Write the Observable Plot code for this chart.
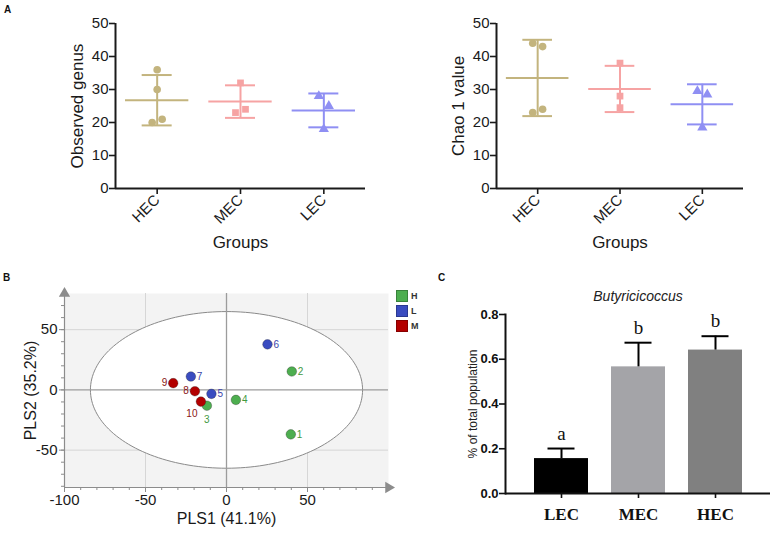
<!DOCTYPE html>
<html><head><meta charset="utf-8">
<script src="https://cdn.jsdelivr.net/npm/d3@7"></script>
<script src="https://cdn.jsdelivr.net/npm/@observablehq/plot@0.6"></script>
<style>
body{margin:0;background:#fff;}
#root{position:relative;width:777px;height:545px;overflow:hidden;font-family:"Liberation Sans",Arial,sans-serif;background:#fff;}
.panel{position:absolute;}
.plabel{position:absolute;font-weight:bold;font-size:10px;color:#111;line-height:1;}
.leg{position:absolute;font-size:9px;font-weight:bold;color:#333;}
.leg .row{display:flex;align-items:center;height:15px;}
.leg .sw{width:12px;height:12px;margin-right:3px;box-sizing:border-box;border:1px solid rgba(0,0,0,0.25);}
</style></head><body><div id="root"></div>
<script>
// ---------- Panel A data ----------
const groupsA = ["HEC", "MEC", "LEC"];
const colorsA = ["#c3b47e", "#f6a3a3", "#8f8ff3"];
const symbolsA = ["circle", "square", "triangle"];
const observedHEC = [36, 30, 20, 21];
const observedMEC = [32, 23, 24];
const observedLEC = [28, 25, 18];
const chaoHEC = [44, 43, 23, 24];
const chaoMEC = [38, 28, 24.5];
const chaoLEC = [29.5, 28.5, 18.5];
const yTicksA = [0, 10, 20, 30, 40, 50];

// ---------- Panel B data ----------
const samplesB = [1, 2, 3, 4, 5, 6, 7, 8, 9, 10];
const sampleGroupB = ["H", "H", "H", "H", "L", "L", "L", "M", "M", "M"];
const pls1 = [39.7, 40.3, -12.1, 5.8, -9.3, 25.3, -22.0, -19.5, -32.9, -15.8];
const pls2 = [-36.9, 15.3, -13.1, -8.3, -3.3, 37.8, 11.1, -1.1, 5.6, -9.7];
const groupsB = ["H", "L", "M"];
const colorsB = ["#4dae4f", "#3a4cc0", "#b30000"];
const labelColorsB = ["#3f9a3f", "#3a45a8", "#8a1515"];
const xTicksB = [-100, -50, 0, 50];
const yTicksB = [-50, 0, 50];
const ellipseRadiusB = [84, 65];

// ---------- Panel C data ----------
const groupsC = ["LEC", "MEC", "HEC"];
const meanC = [0.156, 0.566, 0.641];
const errC = [0.045, 0.108, 0.062];
const lettersC = ["a", "b", "b"];
const colorsC = ["#000000", "#a4a4a8", "#808080"];
const yTicksC = [0, 0.2, 0.4, 0.6, 0.8];

const root = document.getElementById("root");
function place(node, left, top) {
  const d = document.createElement("div");
  d.className = "panel";
  d.style.left = left + "px";
  d.style.top = top + "px";
  d.appendChild(node);
  root.appendChild(d);
}
function label(txt, left, top) {
  const d = document.createElement("div");
  d.className = "plabel";
  d.textContent = txt;
  d.style.left = left + "px";
  d.style.top = top + "px";
  root.appendChild(d);
}

// horizontal dodge of near-coincident points (GraphPad-like scatter)
function dodge(values, thr = 3, off = 0.06) {
  const o = values.map(() => 0);
  let prev = -1;
  for (let i = 0; i < values.length; i++) {
    if (prev >= 0 && Math.abs(values[i] - values[prev]) <= thr) { o[prev] = -off; o[i] = off; prev = -1; }
    else prev = i;
  }
  return o;
}

function panelA(series, ylabel, width, ml, mr) {
  const pts = [], stats = [];
  series.forEach((vals, i) => {
    const off = dodge(vals);
    vals.forEach((v, j) => pts.push({i, g: groupsA[i], v, x: i + off[j]}));
    const m = d3.mean(vals), s = d3.deviation(vals);
    stats.push({i, g: groupsA[i], m, lo: m - s, hi: m + s});
  });
  const lw = 2;
  return Plot.plot({
    width, height: 265,
    marginLeft: ml, marginRight: mr, marginTop: 23, marginBottom: 77,
    x: {domain: [-0.5, 2.5], axis: null},
    y: {domain: [0, 50], axis: null},
    color: {domain: groupsA, range: colorsA},
    symbol: {domain: groupsA, range: symbolsA},
    style: {fontFamily: "'Liberation Sans', Arial, sans-serif", fontSize: "15px", color: "#1a1a1a", background: "transparent", overflow: "visible"},
    marks: [
      Plot.axisY({ticks: yTicksA, tickSize: 6, tickPadding: 1, fontSize: 15, label: null, strokeWidth: 1.6}),
      Plot.axisX({ticks: [0, 1, 2], tickFormat: i => groupsA[i], tickRotate: -45, tickSize: 6, tickPadding: 3, fontSize: 15, label: null, strokeWidth: 1.6}),
      Plot.ruleX([-0.5], {stroke: "#1a1a1a", strokeWidth: 2}),
      Plot.ruleY([0], {stroke: "#1a1a1a", strokeWidth: 2}),
      Plot.ruleX(stats, {x: "i", y1: "lo", y2: "hi", stroke: "g", strokeWidth: lw}),
      Plot.ruleY(stats, {y: "m", x1: d => d.i - 0.38, x2: d => d.i + 0.38, stroke: "g", strokeWidth: lw}),
      Plot.ruleY(stats, {y: "lo", x1: d => d.i - 0.18, x2: d => d.i + 0.18, stroke: "g", strokeWidth: lw}),
      Plot.ruleY(stats, {y: "hi", x1: d => d.i - 0.18, x2: d => d.i + 0.18, stroke: "g", strokeWidth: lw}),
      Plot.dot(pts, {x: "x", y: "v", fill: "g", symbol: "g", r: 3.8}),
      Plot.text([ylabel], {frameAnchor: "left", textAnchor: "middle", rotate: -90, dx: -38, fontSize: 17}),
      Plot.text(["Groups"], {frameAnchor: "bottom", dy: 59, fontSize: 17})
    ]
  });
}

place(panelA([observedHEC, observedMEC, observedLEC], "Observed genus", 380, 115, 15), 0, 0);
place(panelA([chaoHEC, chaoMEC, chaoLEC], "Chao 1 value", 397, 116, 34), 380, 0);

// ---------- Panel B ----------
const rowsB = samplesB.map((id, k) => {
  const gi = groupsB.indexOf(sampleGroupB[k]);
  return {id, g: sampleGroupB[k], x: pls1[k], y: pls2[k], c: colorsB[gi], lc: labelColorsB[gi]};
});
const xDomB = [-100, 100], yDomB = [-81, 80];
const ellipse = d3.range(0, 361, 2).map(a => ({
  x: ellipseRadiusB[0] * Math.cos(a * Math.PI / 180),
  y: ellipseRadiusB[1] * Math.sin(a * Math.PI / 180)
}));
const leftIds = new Set([8, 9]);
const belowLeftIds = new Set([10]);
const belowIds = new Set([3]);
const rightRows = rowsB.filter(d => !leftIds.has(d.id) && !belowLeftIds.has(d.id) && !belowIds.has(d.id));
const axisGray = "#8c8c8c";
const plotB = Plot.plot({
  width: 420, height: 275,
  marginLeft: 64, marginRight: 32, marginTop: 23, marginBottom: 58,
  x: {domain: xDomB, axis: null},
  y: {domain: yDomB, axis: null},
  color: {type: "identity"},
  style: {fontFamily: "'Liberation Sans', Arial, sans-serif", fontSize: "15px", color: "#1a1a1a", background: "transparent", overflow: "visible"},
  marks: [
    Plot.frame({fill: "#f3f3f3", stroke: null}),
    Plot.gridX(yTicksB.filter(v => v !== 0), {stroke: "#d6d6d6", strokeOpacity: 1}),
    Plot.gridY(yTicksB.filter(v => v !== 0), {stroke: "#d6d6d6", strokeOpacity: 1}),
    Plot.line(ellipse, {x: "x", y: "y", fill: "white", stroke: "#8a8a8a", strokeWidth: 1}),
    Plot.ruleX([0], {stroke: "#9c9c9c", strokeWidth: 1.3}),
    Plot.ruleY([0], {stroke: "#9c9c9c", strokeWidth: 1.3}),
    Plot.ruleX([xDomB[0]], {stroke: axisGray, strokeWidth: 1.2}),
    Plot.ruleY([yDomB[0]], {stroke: axisGray, strokeWidth: 1.2}),
    Plot.dot([{x: xDomB[1], y: yDomB[0]}], {x: "x", y: "y", symbol: "triangle", rotate: 90, r: 4.2, fill: axisGray}),
    Plot.dot([{x: xDomB[0], y: yDomB[1]}], {x: "x", y: "y", symbol: "triangle", r: 4.2, fill: axisGray}),
    Plot.axisX({ticks: d3.range(-100, 91, 10), tickSize: 3, text: null, stroke: axisGray, label: null}),
    Plot.axisX({ticks: xTicksB, tickSize: 5, tickPadding: 2, tickFormat: d => String(d), fontSize: 15, stroke: axisGray, label: null}),
    Plot.axisY({ticks: d3.range(-80, 81, 10), tickSize: 3, text: null, stroke: axisGray, label: null}),
    Plot.axisY({ticks: yTicksB, tickSize: 5, tickPadding: 2, tickFormat: d => String(d), fontSize: 15, stroke: axisGray, label: null}),
    Plot.dot(rowsB, {x: "x", y: "y", fill: "c", r: 4.8, stroke: "#222", strokeOpacity: 0.45, strokeWidth: 0.7}),
    Plot.text(rightRows, {x: "x", y: "y", text: "id", fill: "lc", dx: 6, textAnchor: "start", fontSize: 10}),
    Plot.text(rowsB.filter(d => leftIds.has(d.id)), {x: "x", y: "y", text: "id", fill: "lc", dx: -6, textAnchor: "end", fontSize: 10}),
    Plot.text(rowsB.filter(d => belowLeftIds.has(d.id)), {x: "x", y: "y", text: "id", fill: "lc", dx: -9, dy: 12, fontSize: 10}),
    Plot.text(rowsB.filter(d => belowIds.has(d.id)), {x: "x", y: "y", text: "id", fill: "lc", dy: 14, fontSize: 10}),
    Plot.text(["PLS1 (41.1%)"], {frameAnchor: "bottom", dy: 36, fontSize: 16}),
    Plot.text(["PLS2 (35.2%)"], {frameAnchor: "left", textAnchor: "middle", rotate: -90, dx: -34, fontSize: 16})
  ]
});
place(plotB, 0, 270);

// legend for B
const leg = document.createElement("div");
leg.className = "leg";
leg.style.left = "396px";
leg.style.top = "288px";
groupsB.forEach((g, i) => {
  const r = document.createElement("div");
  r.className = "row";
  const sw = document.createElement("div");
  sw.className = "sw";
  sw.style.background = colorsB[i];
  const t = document.createElement("span");
  t.textContent = g;
  r.appendChild(sw); r.appendChild(t);
  leg.appendChild(r);
});
root.appendChild(leg);

// ---------- Panel C ----------
const rowsC = groupsC.map((g, i) => ({g, m: meanC[i], top: meanC[i] + errC[i], letter: lettersC[i], c: colorsC[i]}));
const plotC = Plot.plot({
  width: 357, height: 275,
  marginLeft: 85, marginRight: 7, marginTop: 44, marginBottom: 52,
  x: {domain: groupsC, paddingInner: 0.3, paddingOuter: 0.37, axis: null},
  y: {domain: [0, 0.8], axis: null},
  color: {type: "identity"},
  style: {fontFamily: "'Liberation Sans', Arial, sans-serif", fontSize: "13px", color: "#111", background: "transparent", overflow: "visible"},
  marks: [
    Plot.barY(rowsC, {x: "g", y: "m", fill: "c"}),
    Plot.ruleX(rowsC, {x: "g", y1: "m", y2: "top", stroke: "#000", strokeWidth: 2}),
    Plot.tickY(rowsC, {x: "g", y: "top", stroke: "#000", strokeWidth: 2, insetLeft: 13.5, insetRight: 13.5}),
    Plot.text(rowsC, {x: "g", y: "top", text: "letter", dy: -9, lineAnchor: "bottom", fontSize: 19, fontFamily: "'Liberation Serif', 'Times New Roman', serif"}),
    Plot.axisY({ticks: yTicksC, tickFormat: d3.format(".1f"), tickSize: 6, tickPadding: 1, fontSize: 13, fontWeight: "bold", strokeWidth: 1.6, label: null}),
    Plot.axisX({tickSize: 5, tickPadding: 9, fontSize: 17, fontWeight: "bold", fontFamily: "'Liberation Serif', 'Times New Roman', serif", strokeWidth: 1.6, label: null}),
    Plot.frame({anchor: "left", strokeWidth: 2, stroke: "#111"}),
    Plot.ruleY([0], {strokeWidth: 2, stroke: "#111"}),
    Plot.text(["Butyricicoccus"], {frameAnchor: "top", dy: -23, fontSize: 14, fontStyle: "italic", fill: "#222"}),
    Plot.text(["% of total population"], {frameAnchor: "left", textAnchor: "middle", rotate: -90, dx: -32, fontSize: 12, fill: "#222"})
  ]
});
place(plotC, 420, 270);

label("A", 4, 5);
label("B", 3, 273);
label("C", 438, 273);
</script></body></html>
